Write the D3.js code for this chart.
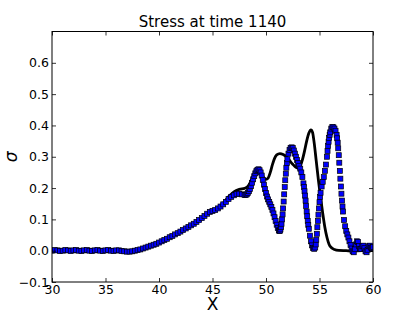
<!DOCTYPE html>
<html>
<head>
<meta charset="utf-8">
<script src="https://cdn.jsdelivr.net/npm/d3@7"></script>
<style>
  body { margin: 0; background: #fff; }
  text { font-family: "DejaVu Sans", sans-serif; }
</style>
</head>
<body>
<div id="chart"></div>
<script>
// values: [x, sigma]
const blackLine = [
  [30,0.000],[31,0.001],[32,0.000],[33,0.001],[34,0.000],[35,0.001],[36,0.000],[37,-0.003],[37.5,-0.002],
  [38,0.002],[38.5,0.007],[39,0.013],[39.5,0.019],[40,0.026],[40.5,0.034],[41,0.043],[41.5,0.052],
  [42,0.061],[42.5,0.071],[43,0.081],[43.5,0.092],[44,0.104],[44.5,0.118],[45,0.128],[45.5,0.137],
  [46,0.152],[46.5,0.172],[47,0.188],[47.5,0.196],[48,0.199],[48.3,0.205],[48.6,0.222],[48.9,0.245],
  [49.2,0.261],[49.4,0.258],[49.6,0.246],[49.8,0.233],[50.0,0.228],[50.2,0.232],[50.4,0.250],[50.6,0.275],
  [50.8,0.295],[51.0,0.306],[51.3,0.310],[51.6,0.307],[51.9,0.300],[52.2,0.288],[52.5,0.276],[52.8,0.266],
  [53.0,0.263],[53.2,0.270],[53.4,0.290],[53.6,0.318],[53.8,0.350],[54.0,0.375],[54.2,0.386],[54.35,0.378],
  [54.5,0.345],[54.7,0.285],[54.9,0.225],[55.1,0.170],[55.3,0.120],[55.5,0.075],[55.7,0.042],[55.9,0.020],
  [56.1,0.010],[56.4,0.004],[56.8,0.001],[57.5,0.000],[58,-0.001],[59,0.000],[60,0.000]
]

const blueSquares = [
  [30,0.000],[30.25,0.002],[30.5,0.001],[30.75,-0.001],[31,0.000],[31.25,0.002],[31.5,0.001],[31.75,-0.001],
  [32,0.001],[32.25,0.002],[32.5,0.000],[32.75,-0.001],[33,0.001],[33.25,0.002],[33.5,0.000],[33.75,-0.001],
  [34,0.001],[34.25,0.002],[34.5,0.000],[34.75,-0.001],[35,0.001],[35.25,0.002],[35.5,0.000],[35.75,-0.001],
  [36,0.001],[36.25,0.001],[36.5,-0.001],[36.75,-0.002],[37,-0.003],[37.25,-0.003],[37.5,-0.002],[37.75,0.000],
  [38,0.002],[38.25,0.004],[38.5,0.007],[38.75,0.010],[39,0.013],[39.25,0.016],[39.5,0.019],[39.75,0.022],
  [40,0.026],[40.25,0.030],[40.5,0.034],[40.75,0.038],[41,0.043],[41.25,0.047],[41.5,0.052],[41.75,0.056],
  [42,0.061],[42.25,0.066],[42.5,0.071],[42.75,0.076],[43,0.081],[43.25,0.086],[43.5,0.092],[43.75,0.098],
  [44,0.104],[44.25,0.111],[44.5,0.118],[44.75,0.124],[45,0.127],[45.25,0.130],[45.5,0.135],[45.75,0.141],
  [46,0.148],[46.25,0.156],[46.5,0.165],[46.75,0.172],[47,0.177],[47.25,0.181],[47.5,0.182],[47.75,0.180],
  [48,0.178],[48.1,0.178],[48.2,0.180],[48.3,0.184],[48.4,0.190],[48.5,0.197],[48.6,0.206],[48.7,0.217],
  [48.8,0.228],[48.9,0.238],[49.0,0.247],[49.1,0.254],[49.2,0.258],[49.3,0.260],[49.4,0.257],[49.5,0.250],
  [49.6,0.240],[49.7,0.226],[49.8,0.211],[49.9,0.197],[50.0,0.184],[50.1,0.173],[50.2,0.164],[50.3,0.156],
  [50.4,0.148],[50.5,0.140],[50.6,0.130],[50.7,0.119],[50.8,0.107],[50.9,0.095],[51.0,0.083],[51.1,0.072],
  [51.2,0.065],[51.25,0.063],[51.3,0.064],[51.35,0.068],[51.4,0.075],[51.45,0.086],[51.5,0.100],[51.55,0.116],
  [51.6,0.135],[51.65,0.157],[51.7,0.180],[51.75,0.203],[51.8,0.225],[51.85,0.246],[51.9,0.265],[51.95,0.280],
  [52.0,0.292],[52.1,0.310],[52.2,0.322],[52.3,0.328],[52.4,0.330],[52.5,0.328],[52.6,0.320],[52.7,0.310],
  [52.8,0.300],[52.9,0.290],[53.0,0.280],[53.1,0.271],[53.2,0.262],[53.3,0.250],[53.4,0.235],[53.5,0.215],
  [53.55,0.203],[53.6,0.190],[53.65,0.176],[53.7,0.160],[53.75,0.143],[53.8,0.125],[53.85,0.110],[53.9,0.095],
  [53.95,0.082],[54.0,0.070],[54.1,0.048],[54.2,0.030],[54.3,0.017],[54.4,0.009],[54.5,0.006],[54.6,0.010],
  [54.65,0.020],[54.7,0.035],[54.75,0.054],[54.8,0.075],[54.85,0.095],[54.9,0.115],[54.95,0.135],[55.0,0.155],
  [55.05,0.171],[55.1,0.185],[55.2,0.205],[55.3,0.220],[55.4,0.235],[55.5,0.255],[55.6,0.275],[55.7,0.300],
  [55.75,0.318],[55.8,0.335],[55.85,0.348],[55.9,0.360],[55.95,0.370],[56.0,0.378],[56.1,0.390],[56.2,0.395],
  [56.3,0.394],[56.4,0.390],[56.5,0.383],[56.6,0.370],[56.65,0.359],[56.7,0.345],[56.75,0.327],[56.8,0.305],
  [56.85,0.281],[56.9,0.255],[56.95,0.230],[57.0,0.205],[57.05,0.182],[57.1,0.160],[57.15,0.141],[57.2,0.125],
  [57.3,0.098],[57.4,0.078],[57.5,0.063],[57.6,0.052],[57.7,0.042],[57.8,0.030],[57.9,0.018],[58.0,0.007],
  [58.1,-0.002],[58.2,-0.005],[58.3,0.005],[58.4,0.020],[58.5,0.030],[58.6,0.028],[58.7,0.015],[58.8,0.005],
  [58.9,0.006],[59.0,0.014],[59.1,0.016],[59.2,0.008],[59.3,-0.002],[59.4,-0.005],[59.5,0.003],[59.6,0.014],
  [59.7,0.016],[59.8,0.010],[59.9,0.008],[60.0,0.012]
]

const xTicks = [30, 35, 40, 45, 50, 55, 60]
const yTicks = [-0.1, 0.0, 0.1, 0.2, 0.3, 0.4, 0.5, 0.6]
const titleText = 'Stress at time 1140'

var W = 415, H = 313
var m = {left: 52, right: 373, top: 31.5, bottom: 282}

var svg = d3.select('#chart').append('svg').attr('width', W).attr('height', H)

var x = d3.scaleLinear().domain([30, 60]).range([m.left, m.right])
var y = d3.scaleLinear().domain([-0.1, 0.7]).range([m.bottom, m.top])

svg.append('defs').append('clipPath').attr('id', 'clip')
  .append('rect').attr('x', m.left).attr('y', m.top).attr('width', m.right - m.left).attr('height', m.bottom - m.top)

var plot = svg.append('g').attr('clip-path', 'url(#clip)')

var line = d3.line().x(d => x(d[0])).y(d => y(d[1])).curve(d3.curveMonotoneX)

plot.append('path').datum(blackLine)
  .attr('d', line)
  .attr('fill', 'none')
  .attr('stroke', '#000')
  .attr('stroke-width', 2.8)
  .attr('stroke-linejoin', 'round')

var sq = 5
plot.selectAll('rect.m').data(blueSquares).enter().append('rect')
  .attr('class', 'm')
  .attr('x', d => x(d[0]) - sq / 2)
  .attr('y', d => y(d[1]) - sq / 2)
  .attr('width', sq).attr('height', sq)
  .attr('fill', '#0000ff')
  .attr('stroke', '#000')
  .attr('stroke-width', 0.7)

// axes: ticks point inward on all four sides, like matplotlib
function fmt(v) { return v < 0 ? '\u2212' + Math.abs(v).toFixed(1) : v.toFixed(1) }

svg.append('g').attr('transform', 'translate(0,' + m.bottom + ')')
  .call(d3.axisBottom(x).tickValues(xTicks).tickSizeInner(-4).tickSizeOuter(0).tickPadding(3))
svg.append('g').attr('transform', 'translate(0,' + m.top + ')')
  .call(d3.axisTop(x).tickValues(xTicks).tickSizeInner(-4).tickSizeOuter(0).tickFormat(''))
svg.append('g').attr('transform', 'translate(' + m.left + ',0)')
  .call(d3.axisLeft(y).tickValues(yTicks).tickSizeInner(-4).tickSizeOuter(0).tickPadding(3).tickFormat(fmt))
svg.append('g').attr('transform', 'translate(' + m.right + ',0)')
  .call(d3.axisRight(y).tickValues(yTicks).tickSizeInner(-4).tickSizeOuter(0).tickFormat(''))

svg.selectAll('.domain').remove()
svg.selectAll('.tick line').attr('stroke', '#000').attr('stroke-width', 0.8)
svg.selectAll('.tick text').attr('font-size', 12.5).attr('font-family', '"DejaVu Sans", sans-serif').attr('fill', '#000')

svg.append('rect')
  .attr('x', m.left).attr('y', m.top).attr('width', m.right - m.left).attr('height', m.bottom - m.top)
  .attr('fill', 'none').attr('stroke', '#000').attr('stroke-width', 1)

svg.append('text').attr('x', (m.left + m.right) / 2).attr('y', 27)
  .attr('text-anchor', 'middle').attr('font-size', 15).text(titleText)

svg.append('text').attr('x', (m.left + m.right) / 2).attr('y', 310)
  .attr('text-anchor', 'middle').attr('font-size', 17).text('X')

svg.append('text')
  .attr('transform', 'translate(17,' + ((m.top + m.bottom) / 2) + ') rotate(-90)')
  .attr('text-anchor', 'middle').attr('font-size', 17).attr('font-style', 'italic').text('σ')
</script>
</body>
</html>
